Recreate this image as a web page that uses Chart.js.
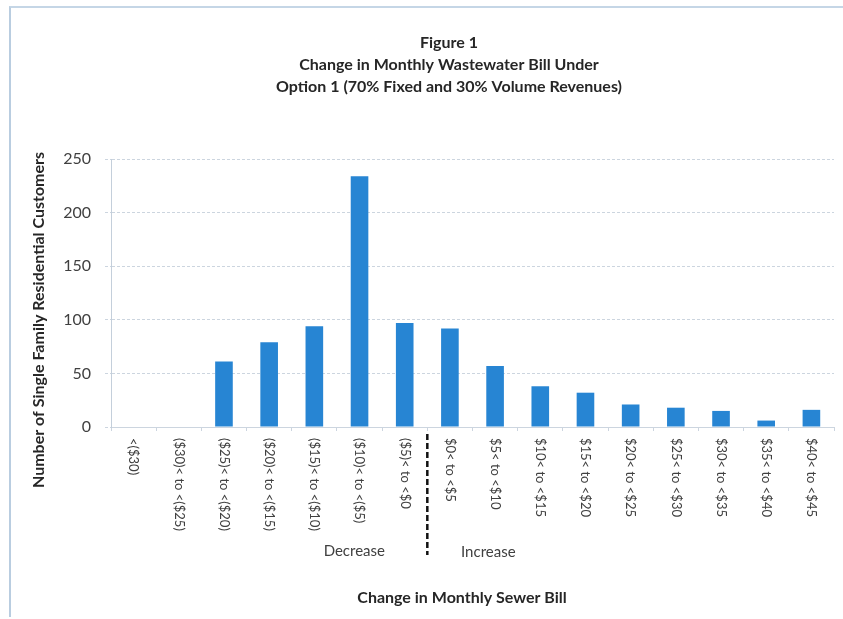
<!DOCTYPE html>
<html>
<head>
<meta charset="utf-8">
<script src="https://cdn.jsdelivr.net/npm/chart.js@4.4.1/dist/chart.umd.min.js"></script>
<style>
    html, body { margin: 0; padding: 0; background: #ffffff; }
    #wrap { position: relative; width: 843px; height: 619px; }
    #frame {
        position: absolute; left: 9px; top: 6px; right: -2px; bottom: 2px;
        border-left: 2px solid #b9cde0; border-top: 2px solid #c5d6e6;
        pointer-events: none;
    }
</style>
</head>
<body>
<div id="wrap">
    <canvas id="chart" width="843" height="619"></canvas>
    <div id="frame"></div>
</div>
<script>
// Chart data
const categories = ['<($30)', '($30)< to <($25)', '($25)< to <($20)', '($20)< to <($15)',
    '($15)< to <($10)', '($10)< to <($5)', '($5)< to <$0', '$0< to <$5', '$5< to <$10',
    '$10< to <$15', '$15< to <$20', '$20< to <$25', '$25< to <$30', '$30< to <$35',
    '$35< to <$40', '$40< to <$45'];
const customers = [0, 0, 61, 79, 94, 234, 97, 92, 57, 38, 32, 21, 18, 15, 6, 16];
const yTicks = [0, 50, 100, 150, 200, 250];

const titleLines = ['Figure 1', 'Change in Monthly Wastewater Bill Under',
    'Option 1 (70% Fixed and 30% Volume Revenues)'];
const groupLabels = ['Decrease', 'Increase'];
const dividerAfter = 6; // index of last "decrease" category

const FONT = 'Lato, "Open Sans", sans-serif';
const BAR_COLOR = '#2785d3';
const GRID_COLOR = '#ccd5df';
const TEXT_COLOR = '#404040';
const DARK_TEXT = '#262626';

// Custom drawing: titles, rotated category labels, divider
const annotations = {
    id: 'annotations',
    afterDraw(chart) {
        const ctx = chart.ctx;
        const x = chart.scales.x;
        const area = chart.chartArea;
        ctx.save();

        // Title
        ctx.fillStyle = DARK_TEXT;
        ctx.font = 'bold 16px ' + FONT;
        ctx.textAlign = 'center';
        ctx.textBaseline = 'middle';
        titleLines.forEach((line, i) => {
            ctx.fillText(line, 449, 43 + i * 22);
        });

        // Y axis title
        ctx.save();
        ctx.translate(39, 320);
        ctx.rotate(-Math.PI / 2);
        ctx.fillText('Number of Single Family Residential Customers', 0, 0);
        ctx.restore();

        // X axis title
        ctx.fillText('Change in Monthly Sewer Bill', 462, 598);

        // Category labels, rotated to read top to bottom
        ctx.fillStyle = TEXT_COLOR;
        ctx.font = '13px ' + FONT;
        ctx.textAlign = 'left';
        categories.forEach((label, i) => {
            ctx.save();
            ctx.translate(x.getPixelForValue(i), area.bottom + 11);
            ctx.rotate(Math.PI / 2);
            ctx.fillText(label, 0, 0);
            ctx.restore();
        });

        // Dashed divider between decrease and increase
        const divX = (x.getPixelForValue(dividerAfter) + x.getPixelForValue(dividerAfter + 1)) / 2;
        ctx.strokeStyle = '#111111';
        ctx.lineWidth = 2.5;
        ctx.setLineDash([6, 3]);
        ctx.beginPath();
        ctx.moveTo(divX, area.bottom + 7);
        ctx.lineTo(divX, area.bottom + 128);
        ctx.stroke();
        ctx.setLineDash([]);

        // Decrease / Increase
        ctx.font = '15px ' + FONT;
        ctx.textAlign = 'center';
        ctx.fillText(groupLabels[0], divX - 73, area.bottom + 124);
        ctx.fillText(groupLabels[1], divX + 61, area.bottom + 125);

        ctx.restore();
    }
};

new Chart(document.getElementById('chart'), {
    type: 'bar',
    data: {
        labels: categories,
        datasets: [{
            data: customers,
            backgroundColor: BAR_COLOR,
            borderWidth: 0,
            barPercentage: 0.39,
            categoryPercentage: 1.0
        }]
    },
    options: {
        responsive: false,
        animation: false,
        layout: {
            padding: { top: 159, right: 9, bottom: 0, left: 10 }
        },
        plugins: {
            legend: { display: false },
            title: { display: false },
            tooltip: { enabled: false }
        },
        scales: {
            x: {
                grid: {
                    display: true,
                    drawOnChartArea: false,
                    drawTicks: true,
                    tickLength: 4,
                    color: GRID_COLOR,
                    offset: true
                },
                border: { color: GRID_COLOR, dash: [3, 2] },
                ticks: { display: false },
                afterFit(scale) {
                    scale.height = 192;
                }
            },
            y: {
                min: 0,
                max: 250,
                afterBuildTicks(scale) {
                    scale.ticks = yTicks.map(v => ({ value: v }));
                },
                grid: {
                    color: GRID_COLOR,
                    tickLength: 6,
                    tickBorderDash: [3, 2]
                },
                border: { color: '#c4cfdb', dash: [3, 2] },
                ticks: {
                    color: TEXT_COLOR,
                    font: { family: FONT, size: 16 },
                    padding: 14
                },
                afterFit(scale) {
                    scale.width = 101;
                }
            }
        }
    },
    plugins: [annotations]
});
</script>
</body>
</html>
